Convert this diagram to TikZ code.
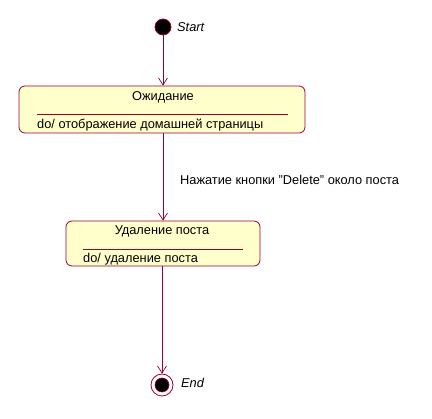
\documentclass[tikz,border=0pt]{standalone}
\usepackage{fontspec}
\setmainfont{Liberation Sans}
\usetikzlibrary{arrows.meta,positioning}
\definecolor{umlred}{HTML}{990033}
\definecolor{umlfill}{HTML}{FFFFCC}
\begin{document}
\begin{tikzpicture}[x=1pt,y=-1pt,
  font=\fontsize{12.8}{14}\selectfont,
  statebox/.style={draw=umlred,fill=umlfill,rounded corners=6pt,line width=0.8pt,inner sep=0pt},
  trans/.style={draw=umlred,line width=0.7pt,-{Straight Barb[length=7pt,width=9pt]}},
  lbl/.style={inner sep=0pt,anchor=base west}]
\useasboundingbox (0,0) rectangle (432,419);
% start
\node[circle,fill=black,draw=umlred,line width=0.8pt,minimum size=16pt,inner sep=0pt] (start) at (163,27) {};
\node[lbl,anchor=west,font=\fontsize{12.8}{14}\selectfont\itshape] (startlbl) at (177,27) {Start};
% state 1
\node[statebox,minimum width=286pt,minimum height=47pt] (s1) at (162,109.5) {};
\node[inner sep=0pt] (s1t) at (163,97) {Ожидание};
\draw[umlred,line width=0.7pt] (37,114) -- (288,114);
\node[lbl,anchor=west] (s1d) at (37,125.5) {do/ отображение домашней страницы};
% state 2
\node[statebox,minimum width=194pt,minimum height=45pt] (s2) at (163,243.5) {};
\node[inner sep=0pt] (s2t) at (162,231) {Удаление поста};
\draw[umlred,line width=0.7pt] (83,249) -- (243,249);
\node[lbl,anchor=west] (s2d) at (83,259.5) {do/ удаление поста};
% end
\node[circle,draw=umlred,line width=0.8pt,minimum size=22pt,inner sep=0pt] (endo) at (162,385) {};
\node[circle,fill=black,draw=umlred,line width=0.6pt,minimum size=14pt,inner sep=0pt] (endi) at (162,385) {};
\node[lbl,anchor=west,font=\fontsize{12.8}{14}\selectfont\itshape] (endlbl) at (181,383) {End};
% transitions
\draw[trans] (start.south) -- (s1.north -| start.south);
\draw[trans] (s1.south -| 163,0) -- (s2.north -| 163,0);
\node[lbl,anchor=west] (t2) at (180,180) {Нажатие кнопки "Delete" около поста};
\draw[trans] (s2.south -| 162,0) -- (endo.north);
\end{tikzpicture}
\end{document}
